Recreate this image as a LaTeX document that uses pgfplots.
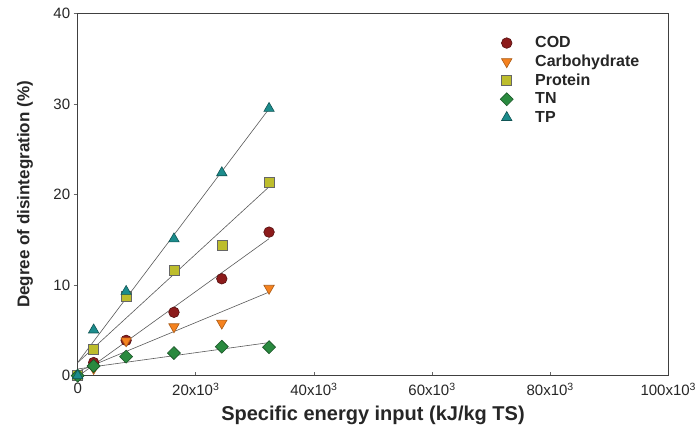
\documentclass[border=0pt]{standalone}
\usepackage{pgfplots}
\usepackage{pgfplotstable}
\pgfplotsset{compat=1.18}
\usepackage{fontspec}
\setmainfont{Liberation Sans}
\definecolor{codc}{HTML}{8C1B1B}
\definecolor{carbc}{HTML}{F5821F}
\definecolor{protc}{HTML}{BDBD2C}
\definecolor{tnc}{HTML}{2A8A3F}
\definecolor{tpc}{HTML}{1C8C8C}
\pgfplotstableread{
x COD Carb Prot TN TP
0 0 0 0 0 0
2700 1.45 0.8 2.9 1.07 5.05
8200 3.9 3.85 8.8 2.1 9.3
16300 7.0 5.4 11.6 2.5 15.1
24400 10.7 5.8 14.4 3.2 22.4
32400 15.85 9.65 21.3 3.15 29.5
}\datatable
\begin{document}
\begin{tikzpicture}
\begin{axis}[
  at={(0,0)}, anchor=south west,
  scale only axis,
  width=590.6pt, height=362.4pt,
  xmin=0, xmax=100000, ymin=0, ymax=40,
  xtick={0,20000,40000,60000,80000,100000},
  xticklabels={0,20x10\textsuperscript{3},40x10\textsuperscript{3},60x10\textsuperscript{3},80x10\textsuperscript{3},100x10\textsuperscript{3}},
  scaled x ticks=false,
  ytick={0,10,20,30,40},
  xtick pos=bottom, ytick pos=left,
  tick align=inside,
  major tick length=4pt,
  y tick style={xshift=-4pt},
  /pgf/number format/assume math mode=true,
  tick label style={font=\fontsize{15}{18}\selectfont, text=black!85},
  xticklabel style={yshift=-4pt},
  yticklabel style={xshift=-4pt},
  axis line style={draw=black!75, line width=0.9pt},
  tick style={draw=black!60, line width=0.7pt},
  xlabel={\textbf{Specific energy input (kJ/kg TS)}},
  ylabel={\textbf{Degree of disintegration (\%)}},
  xlabel style={font=\fontsize{20}{23}\selectfont, text=black!85, at={(axis description cs:0.5,-0.1084)}, anchor=center},
  ylabel style={font=\fontsize{17}{20}\selectfont, text=black!85, at={(axis description cs:-0.0892,0.5)}, anchor=center},
  legend style={at={(rel axis cs:0.710,0.947)}, anchor=north west, draw=none, fill=none,
    font=\fontsize{16}{18}\selectfont\bfseries, text=black!85,
    row sep=1.8pt,
    /tikz/every odd column/.append style={column sep=20pt}},
  legend cell align=left,
  clip=false,
]
\addplot[only marks, mark=*, mark size=5.3, mark options={fill=codc, draw=codc!60!black, line width=0.6pt}] table[x=x, y=COD] {\datatable};
\addlegendentry{COD}
\addplot[only marks, mark=triangle*, mark size=6, mark options={rotate=180, fill=carbc, draw=carbc!70!black, line width=0.6pt}] table[x=x, y=Carb] {\datatable};
\addlegendentry{Carbohydrate}
\addplot[only marks, mark=square*, mark size=5, mark options={fill=protc, draw=black!60, line width=0.6pt}] table[x=x, y=Prot] {\datatable};
\addlegendentry{Protein}
\addplot[only marks, mark=square*, mark size=4.6, mark options={rotate=45, fill=tnc, draw=tnc!60!black, line width=0.6pt}] table[x=x, y=TN] {\datatable};
\addlegendentry{TN}
\addplot[only marks, mark=triangle*, mark size=6, mark options={fill=tpc, draw=tpc!60!black, line width=0.6pt}] table[x=x, y=TP] {\datatable};
\addlegendentry{TP}
\addplot[forget plot, no marks, draw=black!65, line width=0.6pt] table[x=x, y={create col/linear regression={y=COD}}] {\datatable};
\addplot[forget plot, no marks, draw=black!65, line width=0.6pt] table[x=x, y={create col/linear regression={y=Carb}}] {\datatable};
\addplot[forget plot, no marks, draw=black!65, line width=0.6pt] table[x=x, y={create col/linear regression={y=Prot}}] {\datatable};
\addplot[forget plot, no marks, draw=black!65, line width=0.6pt] table[x=x, y={create col/linear regression={y=TN}}] {\datatable};
\addplot[forget plot, no marks, draw=black!65, line width=0.6pt] table[x=x, y={create col/linear regression={y=TP}}] {\datatable};
\end{axis}
\pgfresetboundingbox
\path[use as bounding box] (-77.7pt,-61.3pt) rectangle (618.3pt,375.7pt);
\end{tikzpicture}
\end{document}
